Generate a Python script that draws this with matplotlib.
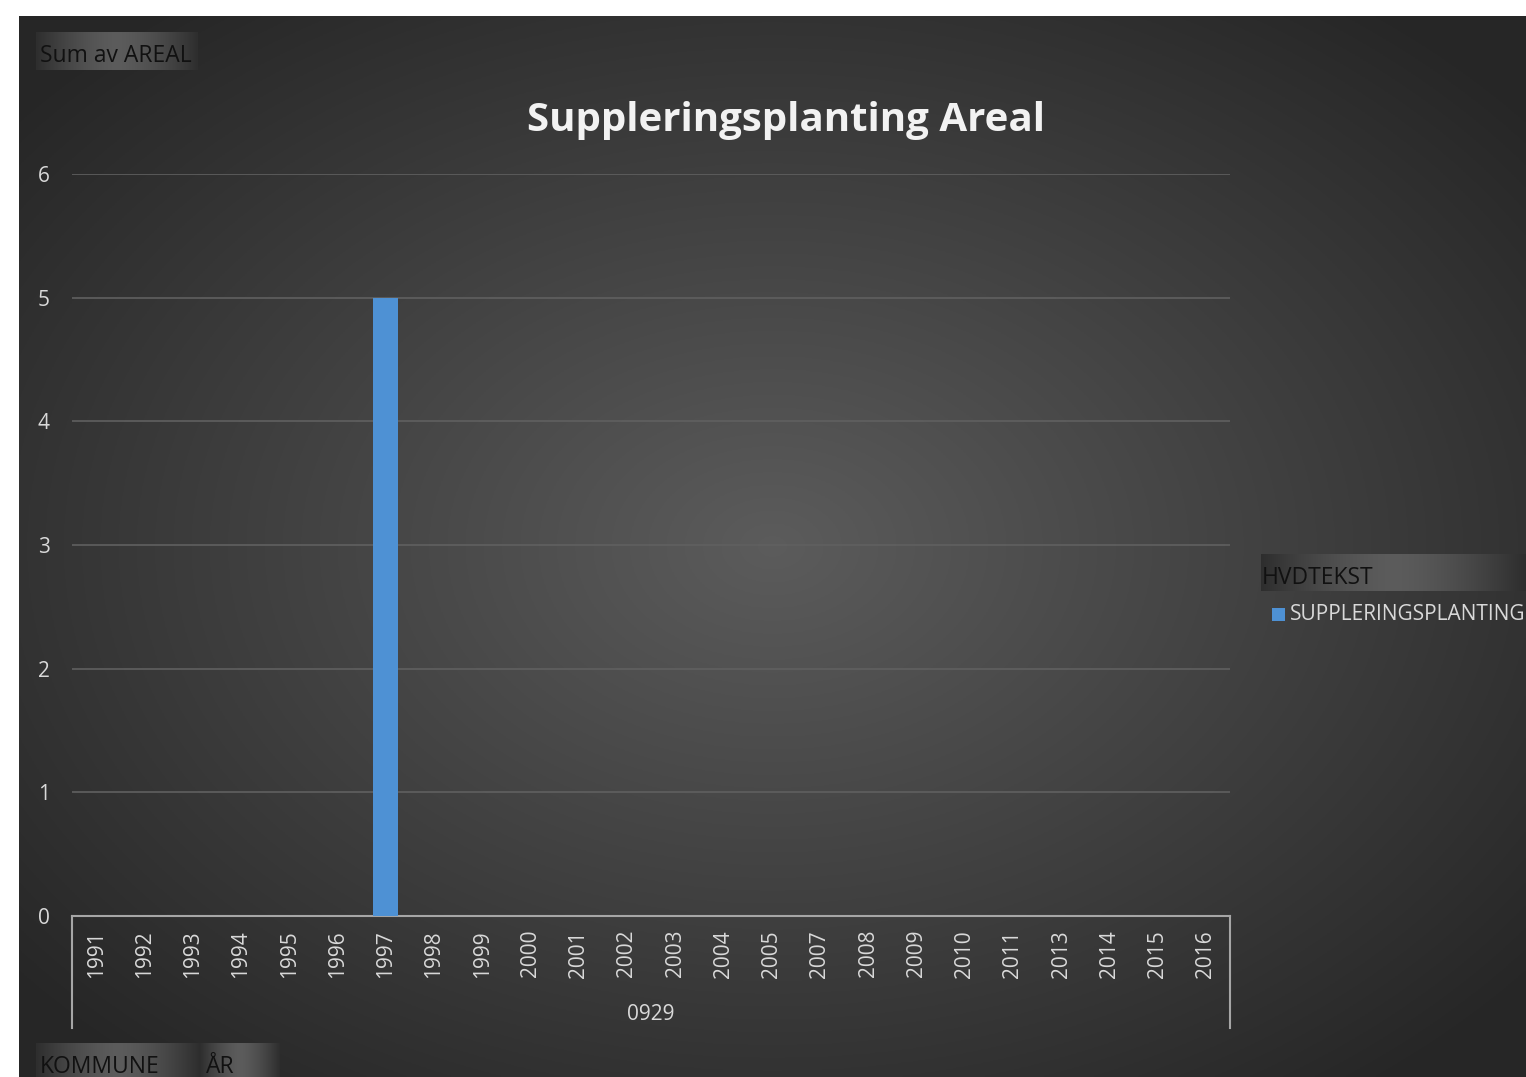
import matplotlib
matplotlib.use("Agg")
import matplotlib.pyplot as plt
import numpy as np

# data
years = ["1991", "1992", "1993", "1994", "1995", "1996", "1997", "1998", "1999",
         "2000", "2001", "2002", "2003", "2004", "2005", "2007", "2008", "2009",
         "2010", "2011", "2013", "2014", "2015", "2016"]
areal = [0, 0, 0, 0, 0, 0, 5, 0, 0, 0, 0, 0, 0, 0, 0, 0, 0, 0, 0, 0, 0, 0, 0, 0]
yticks = [0, 1, 2, 3, 4, 5, 6]
group_label = "0929"
series_name = "SUPPLERINGSPLANTING"
title = "Suppleringsplanting Areal"

W, H = 1526, 1077
fig = plt.figure(figsize=(W / 100, H / 100), dpi=100)
fig.patch.set_facecolor("white")
plt.rcParams["font.family"] = ["Open Sans", "DejaVu Sans"]


def fx(px):
    return px / W


def fy(py):
    return 1 - py / H


# bakgrunn med radial gradient
bg = fig.add_axes([fx(19), 0, 1 - fx(19), 1 - 16 / H])
gx, gy = np.meshgrid(np.linspace(-1, 1, 600), np.linspace(-1, 1, 420))
r = np.clip(np.sqrt(gx ** 2 + gy ** 2) / 1.3, 0, 1)
c = 0.36 - 0.21 * r
bg.imshow(np.dstack([c, c, c]), aspect="auto", extent=[0, 1, 0, 1])
bg.axis("off")


def button(x0, y0, x1, y1):
    b = fig.add_axes([fx(x0), fy(y1), fx(x1 - x0), (y1 - y0) / H])
    t = np.linspace(-1, 1, 200)
    v = 0.36 - 0.18 * np.abs(t) ** 1.5
    b.imshow(np.dstack([v, v, v]), aspect="auto", extent=[0, 1, 0, 1])
    b.axis("off")
    return b


# knapper
bfs = 16.5
button(36, 32, 198, 70)
fig.text(fx(40), fy(56), "Sum av AREAL", fontsize=bfs, color="#111111", va="center")
button(36, 1043, 200, 1077)
button(200, 1043, 280, 1077)
fig.text(fx(40), fy(1067), "KOMMUNE", fontsize=bfs, color="#111111", va="center")
fig.text(fx(206), fy(1067), "ÅR", fontsize=bfs, color="#111111", va="center")
button(1261, 554, 1526, 591)
fig.text(fx(1262), fy(578), "HVDTEKST", fontsize=bfs, color="#111111", va="center")

# hovedplott
ax = fig.add_axes([fx(72), fy(916), fx(1230 - 72), (916 - 174) / H])
ax.set_facecolor("none")
x = np.arange(len(years))
ax.bar(x, areal, width=0.52, color="#4e91d4", zorder=3)
ax.set_xlim(-0.5, len(years) - 0.5)
ax.set_ylim(0, 6)
ax.set_yticks(yticks)
ax.set_yticklabels([str(v) for v in yticks], fontsize=15, color="#d9d9d9")
ax.set_xticks(x)
ax.set_xticklabels(years, rotation=90, fontsize=15, color="#d9d9d9", va="top")
ax.tick_params(axis="both", length=0)
ax.tick_params(axis="x", pad=10)
ax.tick_params(axis="y", pad=16)
for s in ["top", "right", "left"]:
    ax.spines[s].set_visible(False)
ax.spines["bottom"].set_color("#a6a6a6")
ax.spines["bottom"].set_linewidth(1.5)
ax.yaxis.grid(True, color="#606060", linewidth=1.2, zorder=0)
ax.set_axisbelow(True)

# kategoriskiller
dy = (1028 - 916) / (916 - 174)
for xa in [0, 1]:
    ax.plot([xa, xa], [0, -dy], transform=ax.transAxes, color="#a6a6a6",
            linewidth=1.5, clip_on=False)
ax.text(0.5, -(1015 - 916) / (916 - 174), group_label, transform=ax.transAxes,
        ha="center", va="center", fontsize=15, color="#d9d9d9")

# tittel
fig.text(fx(786), fy(120), title, ha="center", va="center", fontsize=29,
         fontweight="bold", color="#f2f2f2")

# legend
fig.patches.append(plt.Rectangle((fx(1272), fy(621)), fx(13), 13 / H,
                                 transform=fig.transFigure, facecolor="#4e91d4",
                                 edgecolor="none"))
fig.text(fx(1290), fy(615), series_name, fontsize=15, color="#d9d9d9", va="center")

fig.savefig("out.png", dpi=100, facecolor="white")
